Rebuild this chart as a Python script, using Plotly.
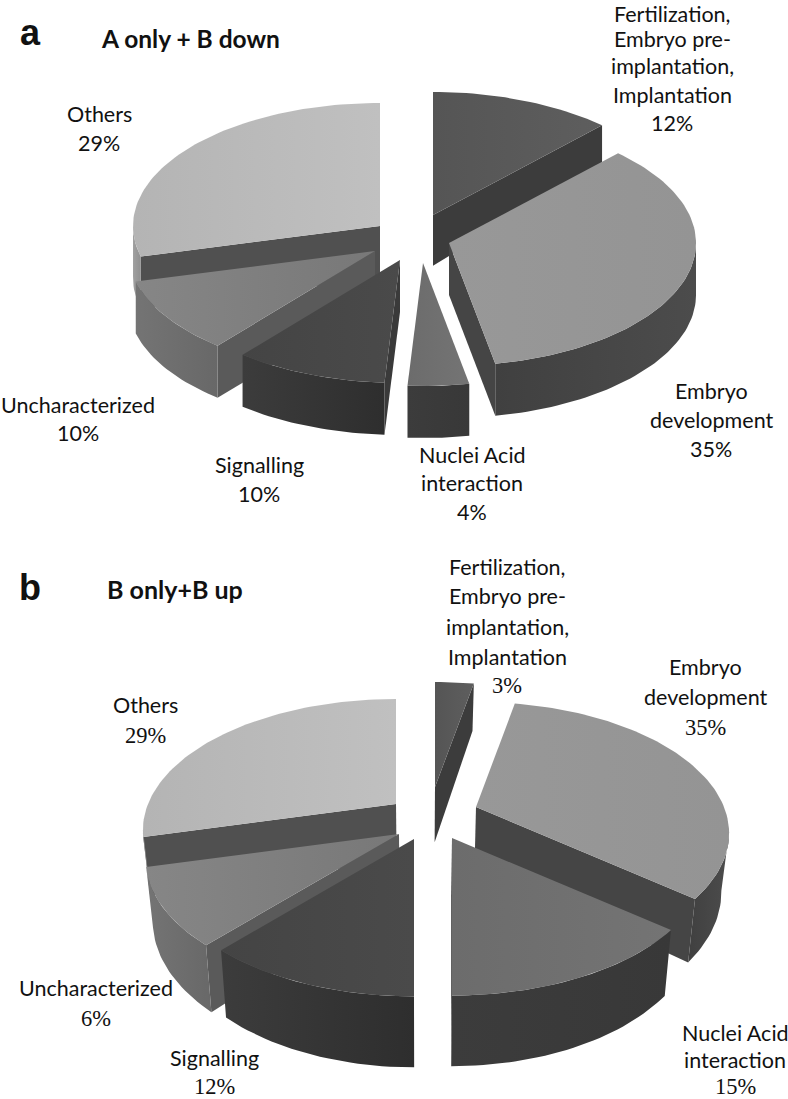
import math
import plotly.graph_objects as go

# ---- data ----
categories = ["Fertilization", "Embryo development", "Nuclei Acid", "Signalling", "Uncharacterized", "Others"]
shares_a = [12, 35, 4, 10, 10, 29]
# panel b: printed labels say 3/35/15/12/6/29; wedge spans
shares_b = [3, 33, 14, 11.5, 9.5, 29]

lines_a = [
    (672, [14, 39, 66, 95, 123], ["Fertilization,", "Embryo pre-", "implantation,", "Implantation", "12%"]),
    (711, [391, 420, 449], ["Embryo", "development", "35%"]),
    (472, [455, 483, 512], ["Nuclei Acid", "interaction", "4%"]),
    (259, [465, 494], ["Signalling", "10%"]),
    (78, [405, 433], ["Uncharacterized", "10%"]),
    (99, [114, 143], ["Others", "29%"]),
]
lines_b = [
    (507, [567, 596, 627, 657, 685], ["Fertilization,", "Embryo pre-", "implantation,", "Implantation", "3%"]),
    (705, [667, 697, 727], ["Embryo", "development", "35%"]),
    (735, [1033, 1060, 1086], ["Nuclei Acid", "interaction", "15%"]),
    (214, [1058, 1086], ["Signalling", "12%"]),
    (96, [988, 1018], ["Uncharacterized", "6%"]),
    (145, [705, 735], ["Others", "29%"]),
]

# ---- look ----
W, H = 788, 1099
top_col = {"Fertilization": ("#555555", "#5e5e5e"), "Embryo development": ("#989898", "#949494"),
           "Nuclei Acid": ("#6c6c6c", "#747474"), "Signalling": ("#444444", "#4a4a4a"),
           "Uncharacterized": ("#868686", "#787878"), "Others": ("#b4b4b4", "#c0c0c0")}
out_col = {"Fertilization": ("#3e3e3e", "#3e3e3e"), "Embryo development": ("#404040", "#4c4c4c"),
           "Nuclei Acid": ("#3c3c3c", "#383838"), "Signalling": ("#3c3c3c", "#2e2e2e"),
           "Uncharacterized": ("#747474", "#686868"), "Others": ("#a0a0a0", "#909090")}
in_col = {"Fertilization": "#3c3c3c", "Embryo development": "#454545", "Nuclei Acid": "#3a3a3a",
          "Signalling": "#3a3a3a", "Uncharacterized": "#5a5a5a", "Others": "#505050"}
draw_order = ["Others", "Fertilization", "Uncharacterized", "Embryo development", "Signalling", "Nuclei Acid"]

panel_a = dict(R=247, Ry=123, p=0.0, t=0.0, vx=410,
               apex=dict(zip(categories, [(433, 215), (449, 243), (423, 263), (400, 260), (375, 251), (380, 226)])),
               depth=lambda y: min(52, 37 + 0.15 * (y - 123)))
panel_b = dict(R=248, Ry=126, p=0.2, t=0.025, vx=420,
               apex=dict(zip(categories, [(435, 787), (476, 807), (452, 838), (414, 839), (399, 834), (396, 804)])),
               depth=lambda y: 48 + 0.075 * (y - 692))


def poly(fig, pts, c0, c1):
    xs = [p[0] for p in pts] + [pts[0][0]]
    ys = [p[1] for p in pts] + [pts[0][1]]
    fig.add_trace(go.Scatter(
        x=xs, y=ys, mode="lines", line=dict(width=0), fill="toself",
        fillgradient=dict(type="horizontal", colorscale=[[0, c0], [1, c1]]),
        hoverinfo="skip", showlegend=False))


def pie(fig, shares, cfg):
    total = sum(shares)
    spans, start = {}, 0.0
    for name, v in zip(categories, shares):
        spans[name] = (start, start + 360.0 * v / total)
        start += 360.0 * v / total

    def low(pt):
        x, y = pt
        return (x - (x - cfg["vx"]) * cfg["t"], y + cfg["depth"](y))

    for name in draw_order:
        a0, a1 = spans[name]
        ax, ay = cfg["apex"][name]
        n = max(2, int((a1 - a0) / 1.5))
        arc = []
        for i in range(n + 1):
            th = math.radians(a0 + (a1 - a0) * i / n)
            X, Y = math.sin(th), -math.cos(th)
            w = 1 - cfg["p"] * Y
            arc.append((ax + cfg["R"] * X / w, ay + cfg["Ry"] * Y / w))
        apex = (ax, ay)
        # radial side faces that look towards the viewer
        if arc[0][0] < ax:
            poly(fig, [apex, arc[0], low(arc[0]), low(apex)], in_col[name], in_col[name])
        if arc[-1][0] > ax:
            poly(fig, [arc[-1], apex, low(apex), low(arc[-1])], in_col[name], in_col[name])
        # curved rim, only the stretch that faces the viewer
        run = [arc[i] for i in range(len(arc))
               if (i + 1 < len(arc) and arc[i + 1][0] < arc[i][0]) or (i > 0 and arc[i][0] < arc[i - 1][0])]
        if len(run) > 1:
            poly(fig, run + [low(p) for p in reversed(run)], *out_col[name])
        poly(fig, [apex] + arc, *top_col[name])


def text(fig, x, y, s, size=21.5, family="Lato", bold=False, anchor="center"):
    fig.add_annotation(x=x, y=y, text=f"<b>{s}</b>" if bold else s, showarrow=False,
                       xref="x", yref="y", xanchor=anchor, yanchor="middle",
                       font=dict(family=family, size=size, color="#111111"))


fig = go.Figure()
pie(fig, shares_a, panel_a)
pie(fig, shares_b, panel_b)

for cx, ys, strs in lines_a:
    for y, s in zip(ys, strs):
        text(fig, cx, y, s)
for cx, ys, strs in lines_b:
    for y, s in zip(ys, strs):
        is_pct = s.endswith("%")
        text(fig, cx, y, s, size=22.5 if is_pct else 21.5, family="Liberation Serif" if is_pct else "Lato")

text(fig, 30, 32, "a", size=36, family="Liberation Sans", bold=True)
text(fig, 30, 587, "b", size=36, family="Liberation Sans", bold=True)
text(fig, 99, 38, "A only + B down", size=24.5, bold=True, anchor="left")
text(fig, 105, 589, "B only+B up", size=25, bold=True, anchor="left")

fig.update_layout(width=W, height=H, margin=dict(l=0, r=0, t=0, b=0),
                  paper_bgcolor="white", plot_bgcolor="white", showlegend=False,
                  xaxis=dict(range=[0, W], visible=False, fixedrange=True),
                  yaxis=dict(range=[H, 0], visible=False, fixedrange=True))

fig.write_html("out.html", config={"displayModeBar": False},
               post_script="document.body.style.margin='0';document.body.style.overflow='hidden';")
